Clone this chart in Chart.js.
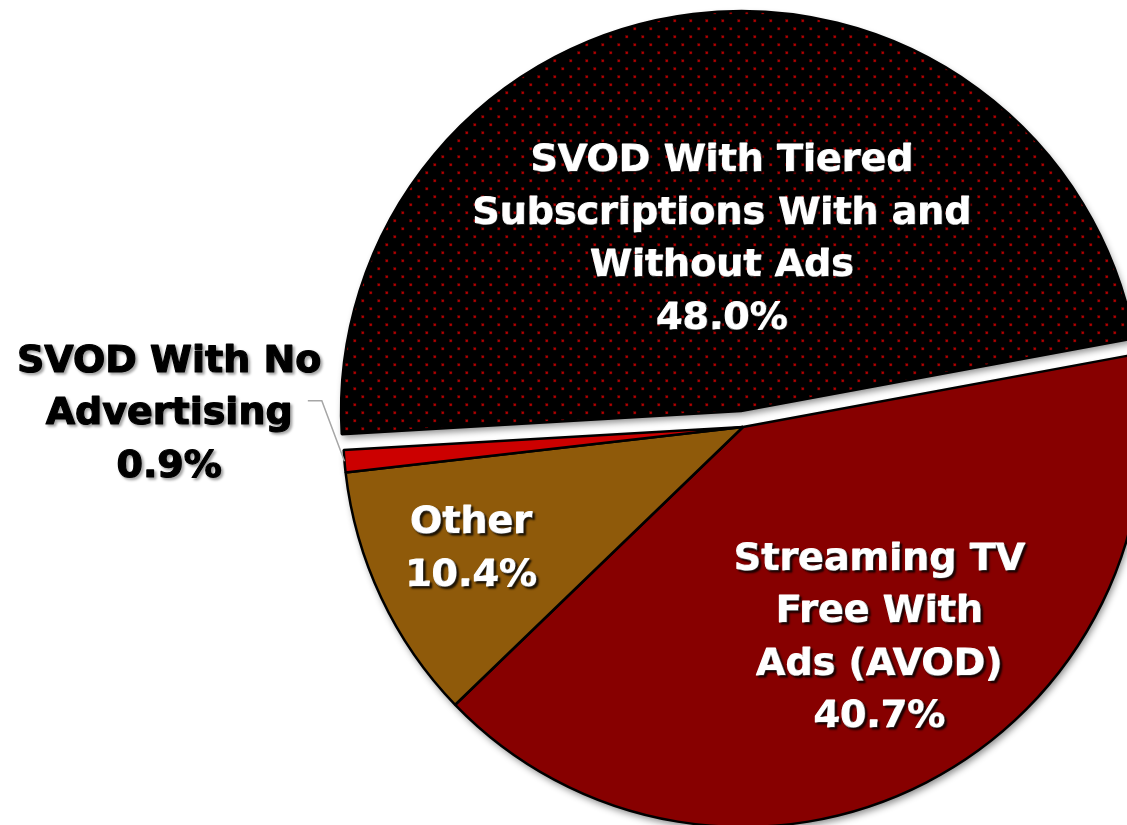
<!DOCTYPE html>
<html>
<head>
<meta charset="utf-8">
<title>Streaming Models Share</title>
<script src="https://cdn.jsdelivr.net/npm/chart.js@4.4.0/dist/chart.umd.min.js"></script>
<style>
  html, body { margin: 0; padding: 0; background: #fff; overflow: hidden; }
  #wrap { position: absolute; left: 0; top: 0; width: 1486px; height: 854px; }
</style>
</head>
<body>
<div id="wrap"><canvas id="pie" width="1486" height="854"></canvas></div>
<script>
// slice data, in drawing order (clockwise from the left side)
const categories = [
  "SVOD With Tiered Subscriptions With and Without Ads",
  "Streaming TV Free With Ads (AVOD)",
  "Other",
  "SVOD With No Advertising"
];
const shares = [48.0, 40.7, 10.4, 0.9];
const labelLines = [
  ["SVOD With Tiered", "Subscriptions With and", "Without Ads"],
  ["Streaming TV", "Free With", "Ads (AVOD)"],
  ["Other"],
  ["SVOD With No", "Advertising"]
];

// look & placement
const sliceColors = [null, "#870000", "#8f5a0a", "#cc0000"];
const explode = [16, 0, 0, 0];          // px pulled out along the slice's mid angle
const labelPos = [                      // radius fraction + angle tweak (deg)
  { frac: 0.43, shift: 0.6 },
  { frac: 0.63, shift: -5.6 },
  { frac: 0.745, shift: 1.0 },
  { frac: 1.435, shift: 6.2, outside: true }
];
const FONT = 'bold 38px "DejaVu Sans", Verdana, sans-serif';
const LINE_H = 52.5;

// black fill with a staggered grid of small red dots
function dotPattern() {
  const c = document.createElement("canvas");
  c.width = 16; c.height = 16;
  const g = c.getContext("2d");
  g.fillStyle = "#000";
  g.fillRect(0, 0, 16, 16);
  g.fillStyle = "rgba(170,0,0,0.55)";
  g.fillRect(3, 3, 3, 3);
  g.fillRect(11, 11, 3, 3);
  g.fillStyle = "#d40000";
  g.fillRect(4, 4, 1.6, 1.6);
  g.fillRect(12, 12, 1.6, 1.6);
  return g.createPattern(c, "repeat");
}
sliceColors[0] = dotPattern();

function arcCenter(arc, i) {
  const mid = (arc.startAngle + arc.endAngle) / 2;
  return {
    x: arc.x + Math.cos(mid) * explode[i],
    y: arc.y + Math.sin(mid) * explode[i],
    mid: mid
  };
}

// soft drop shadow under each wedge, drawn before the wedges themselves
const shadowPlugin = {
  id: "pieShadow",
  beforeDatasetsDraw(chart) {
    const ctx = chart.ctx;
    const meta = chart.getDatasetMeta(0);
    ctx.save();
    ctx.shadowColor = "rgba(0,0,0,0.45)";
    ctx.shadowBlur = 7;
    ctx.shadowOffsetX = 2;
    ctx.shadowOffsetY = 4;
    ctx.fillStyle = "#fff";
    meta.data.forEach((arc, i) => {
      const c = arcCenter(arc, i);
      ctx.beginPath();
      ctx.moveTo(c.x, c.y);
      ctx.arc(c.x, c.y, arc.outerRadius, arc.startAngle, arc.endAngle);
      ctx.closePath();
      ctx.fill();
    });
    ctx.restore();
  }
};

const labelPlugin = {
  id: "sliceLabels",
  afterDatasetsDraw(chart) {
    const ctx = chart.ctx;
    const meta = chart.getDatasetMeta(0);
    meta.data.forEach((arc, i) => {
      const c = arcCenter(arc, i);
      const r = arc.outerRadius;
      const pos = labelPos[i];
      const a = c.mid + pos.shift * Math.PI / 180;
      const cx = c.x + Math.cos(a) * r * pos.frac;
      const cy = c.y + Math.sin(a) * r * pos.frac;
      const lines = labelLines[i].concat([shares[i].toFixed(1) + "%"]);

      ctx.save();
      if (pos.outside) {
        // leader from the label to the slice edge
        const ex = c.x + Math.cos(c.mid) * r;
        const ey = c.y + Math.sin(c.mid) * r;
        const ka = c.mid + 8.5 * Math.PI / 180;
        const kx = c.x + Math.cos(ka) * r * 1.055;
        const ky = c.y + Math.sin(ka) * r * 1.055;
        ctx.strokeStyle = "#a6a6a6";
        ctx.lineWidth = 1.5;
        ctx.beginPath();
        ctx.moveTo(kx - 14, ky);
        ctx.lineTo(kx, ky);
        ctx.lineTo(ex, ey);
        ctx.stroke();
        ctx.fillStyle = "#000";
        ctx.strokeStyle = "#000";
        ctx.shadowColor = "rgba(0,0,0,0.35)";
        ctx.shadowBlur = 3;
      } else {
        ctx.fillStyle = "#fff";
        ctx.strokeStyle = "#fff";
        ctx.shadowColor = "rgba(0,0,0,0.8)";
        ctx.shadowBlur = 2;
      }
      ctx.shadowOffsetX = 2;
      ctx.shadowOffsetY = 2;
      ctx.font = FONT;
      ctx.lineWidth = 1.2;
      ctx.lineJoin = "round";
      ctx.textAlign = "center";
      ctx.textBaseline = "middle";
      lines.forEach((t, k) => {
        const ty = cy + (k - (lines.length - 1) / 2) * LINE_H;
        ctx.strokeText(t, cx, ty);
        ctx.fillText(t, cx, ty);
      });
      ctx.restore();
    });
  }
};

const chart = new Chart(document.getElementById("pie"), {
  type: "pie",
  data: {
    labels: categories,
    datasets: [{
      data: shares,
      backgroundColor: sliceColors,
      borderColor: "#000",
      borderWidth: 2.5
    }]
  },
  options: {
    responsive: false,
    animation: false,
    rotation: -93.3,
    radius: 400,
    layout: { padding: 0 },
    plugins: {
      legend: { display: false },
      tooltip: { enabled: false }
    }
  },
  plugins: [shadowPlugin, labelPlugin]
});

// pull exploded slices out from the centre
chart.getDatasetMeta(0).data.forEach((arc, i) => {
  if (!explode[i]) return;
  const baseDraw = arc.draw;
  arc.draw = function (ctx) {
    const mid = (this.startAngle + this.endAngle) / 2;
    ctx.save();
    ctx.translate(Math.cos(mid) * explode[i], Math.sin(mid) * explode[i]);
    baseDraw.call(this, ctx);
    ctx.restore();
  };
});
chart.draw();
</script>
</body>
</html>
